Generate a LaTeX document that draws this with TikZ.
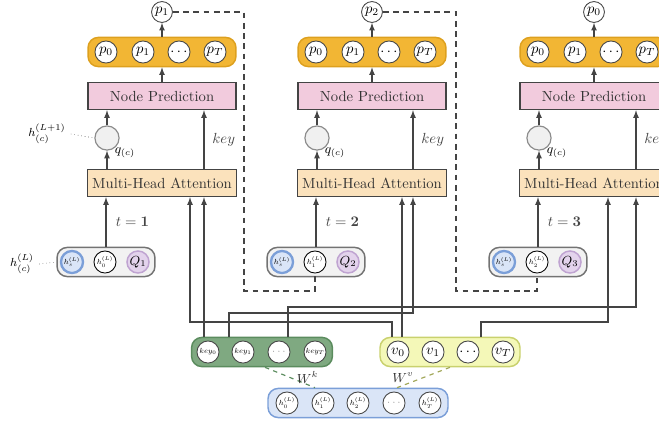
\documentclass[tikz,border=0pt]{standalone}
\usepackage{graphicx}
\usetikzlibrary{calc}

\definecolor{wire}{HTML}{444444}
\definecolor{orangeF}{HTML}{F2B634}
\definecolor{orangeD}{HTML}{DDA01E}
\definecolor{pinkF}{HTML}{F2CBDD}
\definecolor{peachF}{HTML}{FBE2BC}
\definecolor{greenF}{HTML}{7FA981}
\definecolor{greenD}{HTML}{5B8C5E}
\definecolor{yellowF}{HTML}{F4F8B8}
\definecolor{yellowD}{HTML}{C9D16E}
\definecolor{blueF}{HTML}{DAE5F7}
\definecolor{blueD}{HTML}{7B9FD8}
\definecolor{purpF}{HTML}{E3D3EC}
\definecolor{purpD}{HTML}{BFA3D1}

% small labels inside the hidden-state circles
\newcommand{\hlab}[1]{\scalebox{0.72}{\scriptsize$#1$}}

\begin{document}
\begin{tikzpicture}[x=0.024cm,y=-0.024cm,
  circ/.style={circle,draw=wire,fill=white,minimum size=0.53cm,inner sep=0pt,line width=0.6pt},
  grp/.style={rounded corners=7pt,line width=1pt,minimum height=0.7cm},
  blk/.style={draw=wire,line width=0.9pt,minimum width=3.55cm,minimum height=0.65cm,text=black!80},
  arr/.style={-latex,wire,line width=0.8pt},
  fb/.style={wire,line width=0.8pt,dash pattern=on 4pt off 3pt}]
  \useasboundingbox (0,0) rectangle (659,425);

  % one decoding step per column
  \foreach \c/\cx/\kx/\vx/\pidx/\hidx in {1/162/204/190/1/0, 2/372/413/402/2/1, 3/594/636/608/0/2} {
    \node[circ,minimum size=0.5cm] (p\c) at (\cx,12) {$p_{\pidx}$};
    \node[grp,draw=orangeD,fill=orangeF,minimum width=3.55cm] (probs\c) at (\cx,52) {};
    \node[circ] (pa\c) at (\cx-56,52) {$p_0$};
    \node[circ] (pb\c) at (\cx-19,52) {$p_1$};
    \node[circ] (pc\c) at (\cx+17,52) {$\cdots$};
    \node[circ] (pd\c) at (\cx+53,52) {$p_T$};
    \node[blk,fill=pinkF] (np\c) at (\cx,96) {Node Prediction};
    \node[circle,draw=black!45,fill=black!6,minimum size=0.58cm,line width=0.8pt] (q\c) at (\cx-55,138) {};
    \node[blk,fill=peachF] (mha\c) at (\cx,183) {Multi-Head Attention};
    \coordinate (kin\c) at (\kx,0);
    \coordinate (vin\c) at (\vx,0);

    % query input
    \node[grp,draw=black!55,fill=black!5,minimum width=2.35cm] (in\c) at (\cx-56,262) {};
    \node[circ,draw=blueD,fill=blueF,line width=1.6pt] (hs\c) at (\cx-90,262) {\hlab{h_s^{(L)}}};
    \node[circ,draw=black] (h\c) at (\cx-57,262) {\hlab{h_{\hidx}^{(L)}}};
    \node[circ,draw=purpD,fill=purpF,line width=1pt,font=\small] (Q\c) at (\cx-24,262) {$Q_{\c}$};

    \draw[arr] (in\c.north) -- (mha\c.south -| in\c.north) node[midway,right=3pt] {$t=\mathbf{\c}$};
    \draw[arr] (mha\c.north -| q\c) -- (q\c.south);
    \draw[arr] (q\c.north) -- (np\c.south -| q\c);
    \node[font=\small] at (\cx-37,153) {$q_{(c)}$};
    \draw[arr] (mha\c.north -| kin\c) -- (np\c.south -| kin\c) node[midway,right=2pt] {$key$};
    \draw[arr] (np\c.north) -- (probs\c.south);
    \draw[arr] (probs\c.north) -- (p\c.south);
  }

  \node[font=\footnotesize] (hq) at (47,134) {$h_{(c)}^{(L+1)}$};
  \draw[dotted,wire] (hq.east) -- (q1.west);
  \node[font=\footnotesize] (hc) at (22,264) {$h_{(c)}^{(L)}$};
  \draw[dotted,wire] (hc.east) -- (in1.west);

  % feed the predicted node back
  \coordinate (fb1) at (244,291);
  \coordinate (fb2) at (456,291);
  \draw[fb] (p1.east) -| (fb1) -| (h2.south);
  \draw[fb] (p2.east) -| (fb2) -| (h3.south);

  % keys and values
  \node[grp,draw=greenD,fill=greenF,minimum width=3.38cm] (keys) at (262,352) {};
  \node[circ] (k0) at (208,352) {\hlab{key_0}};
  \node[circ] (k1) at (243,352) {\hlab{key_1}};
  \node[circ,font=\tiny] (kd) at (279,352) {$\cdots$};
  \node[circ] (kT) at (315,352) {\hlab{key_T}};

  \node[grp,draw=yellowD,fill=yellowF,minimum width=3.36cm] (vals) at (450,352) {};
  \node[circ] (v0) at (398,352) {$v_0$};
  \node[circ] (v1) at (433,352) {$v_1$};
  \node[circ] (vd) at (468,352) {$\cdots$};
  \node[circ] (vT) at (503,352) {$v_T$};

  \node[grp,draw=blueD,fill=blueF,minimum width=4.32cm] (hid) at (358,403) {};
  \node[circ] (hh0) at (287,403) {\hlab{h_0^{(L)}}};
  \node[circ] (hh1) at (323,403) {\hlab{h_1^{(L)}}};
  \node[circ] (hh2) at (358,403) {\hlab{h_2^{(L)}}};
  \node[circ,font=\tiny] (hhd) at (394,403) {$\cdots$};
  \node[circ] (hhT) at (430,403) {\hlab{h_T^{(L)}}};

  \draw[dashed,greenD,line width=0.8pt] ($(keys.south)+(3,0)$) -- ($(hid.north)+(-43,0)$) node[midway,right=1pt,text=black!80,font=\small] {$W^k$};
  \draw[dashed,yellowD!80!black,line width=0.8pt] (vals.south) -- ($(hid.north)+(39,0)$) node[midway,left=3pt,text=black!80,font=\small] {$W^v$};

  % wiring into the attention blocks
  \coordinate (v1x) at (392,322);
  \coordinate (k2x) at (229,313);
  \coordinate (k3x) at (288,307);
  \coordinate (v3x) at (481,322);
  \draw[arr] (keys.north -| kin1) -- (mha1.south -| kin1);
  \draw[arr] (vals.north -| v1x) -- (v1x) -| (mha1.south -| vin1);
  \draw[arr] (vals.north -| vin2) -- (mha2.south -| vin2);
  \draw[arr] (keys.north -| k2x) -- (k2x) -| (mha2.south -| kin2);
  \draw[arr] (keys.north -| k3x) -- (k3x) -| (mha3.south -| kin3);
  \draw[arr] (vals.north -| v3x) -- (v3x) -| (mha3.south -| vin3);
\end{tikzpicture}
\end{document}
